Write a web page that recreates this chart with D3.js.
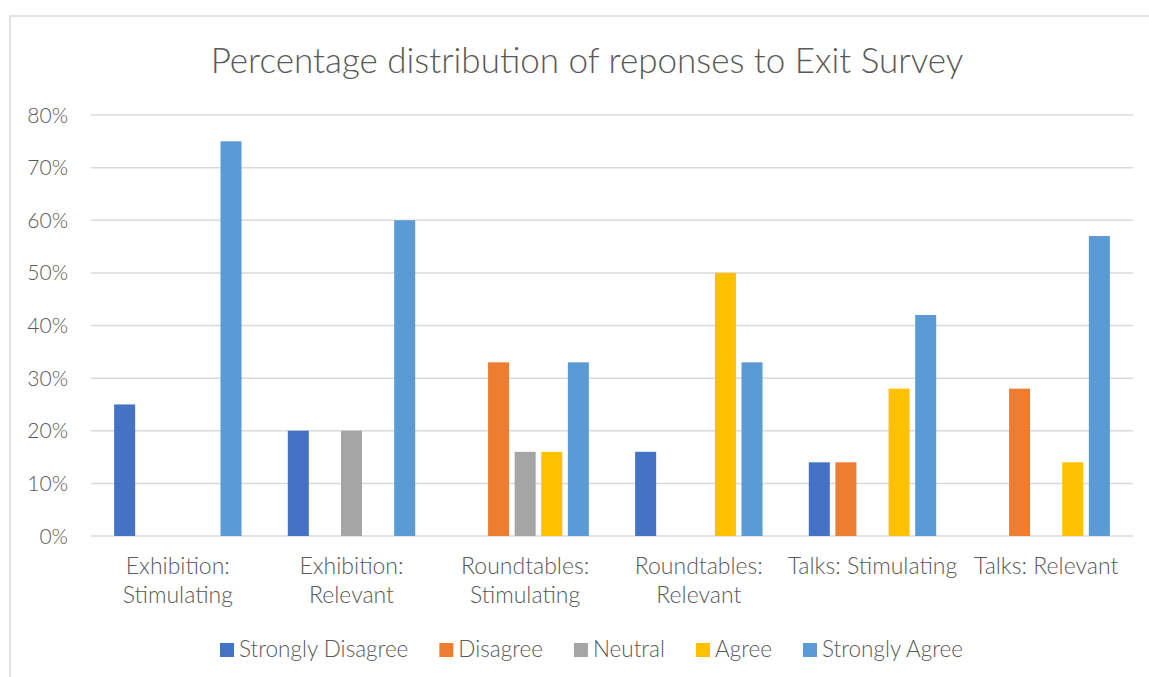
<!DOCTYPE html>
<html>
<head>
<meta charset="utf-8">
<script src="https://cdn.jsdelivr.net/npm/d3@7.9.0/dist/d3.min.js"></script>
<style>
  html, body { margin: 0; padding: 0; background: #fff; }
  svg { display: block; }
  text { font-family: Lato, "Open Sans", sans-serif; font-weight: 300; fill: #595959; }
</style>
</head>
<body>
<svg id="chart" width="1149" height="677"></svg>
<script>
// data
const categories = [
    'Exhibition: Stimulating', 'Exhibition: Relevant',
    'Roundtables: Stimulating', 'Roundtables: Relevant',
    'Talks: Stimulating', 'Talks: Relevant'
];
const categoryLines = [
    ['Exhibition:', 'Stimulating'], ['Exhibition:', 'Relevant'],
    ['Roundtables:', 'Stimulating'], ['Roundtables:', 'Relevant'],
    ['Talks: Stimulating'], ['Talks: Relevant']
];
const seriesNames = ['Strongly Disagree', 'Disagree', 'Neutral', 'Agree', 'Strongly Agree'];
const seriesColors = ['#4472C4', '#ED7D31', '#A5A5A5', '#FFC000', '#5B9BD5'];

const stronglyDisagree = [25, 20, 0, 16, 14, 0];
const disagree         = [0, 0, 33, 0, 14, 28];
const neutral          = [0, 20, 16, 0, 0, 0];
const agree            = [0, 0, 16, 50, 28, 14];
const stronglyAgree    = [75, 60, 33, 33, 42, 57];
const seriesValues = [stronglyDisagree, disagree, neutral, agree, stronglyAgree];

const yTicks = [0, 10, 20, 30, 40, 50, 60, 70, 80];

const svg = d3.select('#chart');

// chart border (top and left visible, rest runs off the picture)
svg.append('rect')
    .attr('x', 10).attr('y', 16)
    .attr('width', 1160).attr('height', 700)
    .attr('fill', 'none')
    .attr('stroke', '#d9d9d9')
    .attr('stroke-width', 1.5);

// title
svg.append('text')
    .attr('x', 587).attr('y', 73)
    .attr('text-anchor', 'middle')
    .attr('font-size', 35)
    .text('Percentage distribution of reponses to Exit Survey');

const plot = { left: 91, right: 1133, top: 115, bottom: 536 };

const x0 = d3.scaleBand()
    .domain(categories)
    .range([plot.left, plot.right])
    .paddingInner(0).paddingOuter(0);

const x1 = d3.scaleBand()
    .domain(seriesNames)
    .range([0, x0.bandwidth()])
    .paddingInner(0.21).paddingOuter(0.87);

const y = d3.scaleLinear()
    .domain([0, 80])
    .range([plot.bottom, plot.top]);

// gridlines
svg.append('g')
    .selectAll('line')
    .data(yTicks)
    .join('line')
    .attr('x1', plot.left).attr('x2', plot.right)
    .attr('y1', d => y(d)).attr('y2', d => y(d))
    .attr('stroke', '#d9d9d9')
    .attr('stroke-width', 1.5);

// y tick labels
svg.append('g')
    .selectAll('text')
    .data(yTicks)
    .join('text')
    .attr('x', 68)
    .attr('y', d => y(d) + 7.5)
    .attr('text-anchor', 'end')
    .attr('font-size', 21)
    .text(d => d + '%');

// bars
const groups = svg.append('g')
    .selectAll('g')
    .data(categories)
    .join('g')
    .attr('transform', d => `translate(${x0(d)},0)`);

groups.selectAll('rect')
    .data((d, ci) => seriesNames.map((s, si) => ({ s, si, v: seriesValues[si][ci] })))
    .join('rect')
    .filter(d => d.v > 0)
    .attr('x', d => x1(d.s))
    .attr('width', x1.bandwidth())
    .attr('y', d => y(d.v))
    .attr('height', d => y(0) - y(d.v))
    .attr('fill', d => seriesColors[d.si]);

// x labels
const xl = svg.append('g')
    .selectAll('text')
    .data(categories)
    .join('text')
    .attr('text-anchor', 'middle')
    .attr('font-size', 23)
    .attr('x', d => x0(d) + x0.bandwidth() / 2)
    .attr('y', 574);

xl.selectAll('tspan')
    .data((d, i) => categoryLines[i])
    .join('tspan')
    .attr('x', function() { return this.parentNode.getAttribute('x'); })
    .attr('dy', (d, i) => i === 0 ? 0 : 29)
    .text(d => d);

// legend
const legend = svg.append('g');
let lx = 220;
seriesNames.forEach((name, i) => {
    legend.append('rect')
        .attr('x', lx).attr('y', 643)
        .attr('width', 14).attr('height', 14)
        .attr('fill', seriesColors[i]);
    const t = legend.append('text')
        .attr('x', lx + 19).attr('y', 657)
        .attr('font-size', 22.5)
        .text(name);
    lx += 19 + t.node().getComputedTextLength() + 31;
});
</script>
</body>
</html>
